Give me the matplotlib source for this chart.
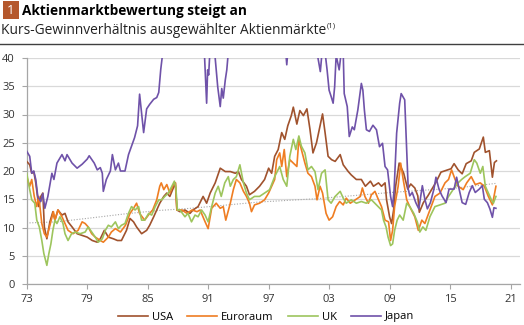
import matplotlib
matplotlib.use("Agg")
import matplotlib.pyplot as plt
from matplotlib.patches import Rectangle

plt.rcParams['font.family'] = ['Open Sans', 'DejaVu Sans']

# --- data (KGV) ---
usa_x = [1973.0, 1973.3, 1973.5, 1973.7, 1973.9, 1974.2, 1974.4, 1974.6, 1974.75, 1975.0,
         1975.3, 1975.6, 1975.8, 1976.1, 1976.5, 1976.8, 1977.1, 1977.5, 1978.0, 1978.5,
         1979.0, 1979.5, 1980.0, 1980.3, 1980.7, 1981.1, 1981.6, 1982.0, 1982.4, 1982.9,
         1983.25, 1983.6, 1983.9, 1984.4, 1984.9, 1985.2, 1985.6, 1985.9, 1986.2, 1986.6,
         1986.9, 1987.2, 1987.55, 1987.75, 1987.9, 1988.2, 1988.7, 1989.2, 1989.5, 1990.0,
         1990.5, 1990.85, 1991.2, 1991.7, 1992.2, 1992.7, 1993.2, 1993.7, 1994.0, 1994.3,
         1994.8, 1995.1, 1995.6, 1996.1, 1996.6, 1997.0, 1997.3, 1997.6, 1997.95, 1998.3,
         1998.6, 1998.9, 1999.25, 1999.45, 1999.8, 2000.1, 2000.45, 2000.8, 2001.1, 2001.4,
         2001.75, 2002.1, 2002.35, 2002.6, 2002.9, 2003.25, 2003.6, 2004.1, 2004.4, 2004.9,
         2005.2, 2005.7, 2006.2, 2006.6, 2007.1, 2007.4, 2007.9, 2008.2, 2008.55, 2008.7,
         2009.0, 2009.2, 2009.4, 2009.6, 2009.95, 2010.1, 2010.4, 2010.8, 2011.1, 2011.5,
         2011.8, 2011.95, 2012.35, 2012.8, 2013.2, 2013.6, 2014.1, 2014.6, 2015.1, 2015.4,
         2015.8, 2016.2, 2016.6, 2017.1, 2017.4, 2017.9, 2018.3, 2018.5, 2018.9, 2019.2,
         2019.4, 2019.6]
usa_y = [21.7, 21.1, 19.6, 19.9, 17.9, 13.7, 15.5, 16.1, 10.1, 8.0,
         11.0, 12.8, 11.3, 13.1, 12.2, 12.5, 11.0, 10.1, 8.9, 8.6,
         8.3, 7.7, 7.4, 8.0, 9.5, 8.3, 8.0, 7.7, 7.7, 9.5,
         11.6, 11.0, 10.1, 8.9, 9.5, 10.4, 11.9, 13.1, 14.3, 15.5,
         16.1, 15.5, 17.0, 17.9, 13.1, 12.8, 13.1, 12.5, 13.1, 13.7,
         15.5, 14.3, 16.1, 17.9, 20.5, 19.9, 19.9, 19.6, 19.9, 18.5,
         17.3, 15.8, 16.4, 17.3, 18.5, 20.5, 19.6, 22.6, 23.8, 26.8,
         25.6, 28.0, 29.8, 31.3, 28.3, 30.7, 29.8, 31.0, 27.4, 23.2,
         25.0, 28.0, 30.1, 26.8, 22.6, 22.0, 21.7, 22.9, 21.1, 19.9,
         19.3, 18.5, 18.5, 17.3, 18.2, 17.3, 17.9, 17.3, 17.9, 14.9,
         11.9, 10.7, 13.1, 17.3, 21.4, 20.8, 19.6, 16.8, 17.7, 17.0,
         15.6, 12.7, 14.4, 15.6, 16.8, 18.0, 19.8, 20.1, 20.4, 21.3,
         20.2, 19.5, 21.3, 21.8, 23.3, 23.9, 26.0, 23.3, 23.6, 18.9,
         21.5, 21.8]

euro_x = [1973.0, 1973.3, 1973.5, 1973.75, 1974.0, 1974.2, 1974.5, 1974.75, 1975.0, 1975.3,
          1975.65, 1975.8, 1976.1, 1976.5, 1976.8, 1977.1, 1977.6, 1978.1, 1978.5, 1978.8,
          1979.1, 1979.45, 1979.8, 1980.3, 1980.6, 1981.1, 1981.4, 1981.8, 1982.3, 1982.8,
          1983.25, 1983.6, 1983.9, 1984.2, 1984.7, 1985.2, 1985.5, 1985.9, 1986.2, 1986.35,
          1986.6, 1986.9, 1987.2, 1987.55, 1987.75, 1987.9, 1988.4, 1988.9, 1989.4, 1989.9,
          1990.2, 1990.7, 1991.0, 1991.35, 1991.8, 1992.2, 1992.5, 1992.75, 1993.2, 1993.5,
          1993.8, 1994.15, 1994.5, 1994.8, 1995.1, 1995.3, 1995.6, 1996.1, 1996.6, 1997.0,
          1997.3, 1997.6, 1997.8, 1998.1, 1998.3, 1998.55, 1998.8, 1999.1, 1999.45, 1999.8,
          2000.0, 2000.25, 2000.6, 2000.9, 2001.25, 2001.6, 2001.8, 2002.1, 2002.35, 2002.7,
          2003.0, 2003.35, 2003.7, 2004.05, 2004.4, 2004.7, 2005.1, 2005.6, 2006.1, 2006.3,
          2006.55, 2006.9, 2007.2, 2007.55, 2007.9, 2008.2, 2008.55, 2008.9, 2009.1, 2009.3,
          2009.5, 2009.85, 2010.1, 2010.35, 2010.7, 2011.0, 2011.5, 2011.85, 2012.2, 2012.5,
          2013.0, 2013.5, 2014.0, 2014.5, 2014.85, 2015.15, 2015.5, 2015.8, 2016.3, 2016.65,
          2017.1, 2017.5, 2018.0, 2018.4, 2018.8, 2019.2, 2019.55]
euro_y = [19.0, 17.3, 18.5, 15.5, 13.7, 15.5, 10.7, 8.9, 8.3, 10.4,
          12.8, 11.3, 13.1, 11.9, 10.7, 9.5, 8.9, 9.5, 11.0, 10.7,
          10.1, 8.9, 8.3, 7.7, 7.4, 8.3, 9.2, 9.8, 9.2, 10.4,
          12.5, 13.4, 14.3, 12.5, 11.3, 12.5, 13.1, 14.9, 17.3, 17.9,
          16.7, 17.6, 16.1, 17.6, 17.9, 13.1, 13.1, 12.5, 13.1, 12.8,
          13.1, 11.0, 9.8, 13.4, 14.3, 13.4, 13.7, 11.3, 14.3, 16.7,
          18.5, 17.9, 16.4, 15.5, 14.3, 12.8, 14.0, 14.3, 14.9, 16.1,
          17.3, 18.5, 22.0, 23.2, 20.8, 23.8, 19.0, 22.0, 21.4, 20.8,
          25.6, 23.8, 21.4, 19.6, 19.0, 17.3, 14.9, 17.3, 16.1, 12.5,
          11.3, 11.9, 13.7, 14.6, 14.0, 15.2, 14.3, 14.9, 15.5, 17.0,
          15.5, 14.3, 15.8, 16.4, 14.9, 13.7, 11.3, 11.0, 7.7, 9.5,
          13.7, 17.3, 21.4, 18.5, 14.9, 13.7, 11.9, 9.5, 11.3, 10.7,
          13.1, 15.5, 16.1, 17.9, 18.5, 20.2, 18.5, 17.3, 16.7, 17.9,
          19.0, 17.6, 17.9, 17.3, 15.5, 14.0, 17.3]

uk_x = [1973.0, 1973.3, 1973.5, 1973.8, 1974.0, 1974.25, 1974.5, 1974.7, 1975.0, 1975.2,
        1975.4, 1975.6, 1975.8, 1976.0, 1976.3, 1976.6, 1976.8, 1977.1, 1977.45, 1977.8,
        1978.3, 1978.8, 1979.1, 1979.45, 1979.8, 1980.1, 1980.5, 1980.8, 1981.1, 1981.4,
        1981.8, 1982.1, 1982.4, 1982.75, 1983.1, 1983.4, 1983.75, 1984.1, 1984.4, 1984.7,
        1985.1, 1985.4, 1985.75, 1986.1, 1986.4, 1986.7, 1987.05, 1987.4, 1987.65, 1987.8,
        1987.95, 1988.2, 1988.7, 1989.0, 1989.35, 1989.7, 1990.0, 1990.35, 1990.7, 1991.0,
        1991.35, 1991.7, 1992.0, 1992.3, 1992.65, 1993.0, 1993.2, 1993.5, 1993.8, 1994.15,
        1994.5, 1994.8, 1995.1, 1995.6, 1996.1, 1996.6, 1997.1, 1997.6, 1998.1, 1998.45,
        1998.8, 1999.1, 1999.45, 1999.7, 2000.0, 2000.25, 2000.6, 2000.9, 2001.25, 2001.6,
        2001.9, 2002.25, 2002.6, 2002.9, 2003.2, 2003.6, 2004.1, 2004.4, 2004.7, 2005.2,
        2005.7, 2006.2, 2006.7, 2007.2, 2007.7, 2008.2, 2008.4, 2008.65, 2008.85, 2009.1,
        2009.3, 2009.5, 2009.75, 2010.0, 2010.35, 2010.7, 2011.0, 2011.4, 2011.75, 2012.0,
        2012.3, 2012.6, 2013.0, 2013.5, 2014.0, 2014.5, 2014.85, 2015.3, 2015.8, 2016.15,
        2016.5, 2017.0, 2017.4, 2017.65, 2018.0, 2018.25, 2018.5, 2018.8, 2019.1, 2019.3,
        2019.55]
uk_y = [19.6, 16.7, 14.9, 14.3, 11.3, 10.1, 7.7, 5.4, 3.3, 5.4,
        7.1, 9.5, 11.3, 10.7, 11.9, 10.7, 8.9, 7.7, 8.9, 9.2,
        8.9, 9.2, 10.1, 9.2, 8.3, 7.4, 8.0, 9.5, 10.4, 10.1,
        11.0, 9.8, 10.4, 10.7, 12.5, 13.7, 13.1, 13.7, 11.3, 11.3,
        12.5, 12.2, 13.7, 14.9, 14.9, 15.5, 16.1, 17.3, 18.2, 17.0,
        13.1, 13.1, 11.9, 12.5, 11.0, 12.2, 11.9, 13.1, 12.2, 11.0,
        13.7, 16.1, 17.3, 15.5, 17.9, 19.0, 17.3, 18.5, 19.0, 21.1,
        17.9, 16.1, 14.9, 15.5, 15.5, 16.1, 16.7, 19.0, 20.8, 18.5,
        17.3, 22.6, 25.6, 23.8, 26.2, 24.4, 23.2, 20.2, 20.8, 19.9,
        16.7, 19.6, 20.2, 14.9, 14.3, 15.5, 16.4, 15.2, 14.3, 14.9,
        14.3, 14.6, 14.3, 14.9, 14.0, 13.1, 11.3, 10.1, 8.3, 6.8,
        7.1, 9.5, 11.3, 12.2, 11.3, 14.3, 13.7, 12.5, 11.0, 9.2,
        10.1, 9.5, 11.9, 13.7, 14.0, 14.3, 15.5, 16.7, 17.9, 18.5,
        19.0, 19.6, 22.0, 21.4, 19.6, 20.8, 17.3, 16.1, 14.9, 14.3,
        15.5]

# Japan runs above the 40 ceiling in the late 80s / 90s (clipped in the chart)
japan_x = [1973.0, 1973.3, 1973.5, 1973.7, 1973.9, 1974.1, 1974.4, 1974.6, 1974.8, 1975.1,
           1975.5, 1975.7, 1976.0, 1976.5, 1976.8, 1977.0, 1977.5, 1978.0, 1978.5, 1979.0,
           1979.2, 1979.7, 1980.0, 1980.3, 1980.5, 1980.6, 1980.9, 1981.3, 1981.5, 1981.8,
           1982.1, 1982.3, 1982.75, 1983.1, 1983.4, 1983.7, 1984.0, 1984.2, 1984.6, 1984.9,
           1985.2, 1985.6, 1985.9, 1986.1, 1986.3, 1986.5, 1987.0, 1988.0, 1989.0, 1990.0,
           1990.6, 1990.85, 1990.95, 1991.05, 1991.2, 1991.6, 1991.95, 1992.2, 1992.35, 1992.5,
           1992.7, 1992.85, 1993.0, 1995.0, 1998.7, 1998.8, 1998.9, 2001.8, 2002.0, 2002.13,
           2002.3, 2002.6, 2002.8, 2003.0, 2003.2, 2003.4, 2003.55, 2003.7, 2004.0, 2004.2,
           2004.4, 2004.5, 2004.8, 2005.0, 2005.3, 2005.5, 2005.85, 2006.2, 2006.35, 2006.5,
           2006.7, 2007.0, 2007.35, 2007.7, 2008.0, 2008.3, 2008.55, 2008.8, 2009.1, 2009.3,
           2009.45, 2009.7, 2010.0, 2010.15, 2010.5, 2010.7, 2010.85, 2011.0, 2011.25, 2011.6,
           2011.9, 2012.25, 2012.5, 2012.75, 2013.05, 2013.4, 2013.6, 2013.9, 2014.2, 2014.6,
           2014.9, 2015.4, 2015.65, 2015.9, 2016.2, 2016.55, 2016.9, 2017.2, 2017.5, 2017.9,
           2018.2, 2018.4, 2018.7, 2018.95, 2019.2, 2019.35, 2019.55]
japan_y = [23.5, 22.6, 19.6, 20.0, 18.5, 15.5, 14.6, 16.0, 13.4, 15.5,
           19.6, 18.5, 21.4, 22.9, 21.8, 22.9, 21.4, 20.5, 21.2, 22.1,
           22.7, 21.4, 20.2, 20.6, 19.6, 16.4, 18.5, 20.0, 22.9, 20.2,
           21.4, 20.0, 20.0, 22.9, 24.4, 25.9, 28.0, 33.6, 26.8, 31.0,
           31.8, 32.7, 33.0, 33.9, 38.0, 41.0, 55.0, 60.0, 65.0, 55.0,
           42.0, 32.0, 37.9, 37.0, 42.0, 42.0, 34.9, 31.4, 34.6, 32.9,
           36.1, 37.9, 41.0, 60.0, 41.0, 38.8, 41.0, 41.0, 39.0, 37.6,
           41.0, 41.0, 37.9, 34.3, 33.2, 32.0, 34.9, 40.5, 37.9, 41.0,
           41.0, 33.7, 31.4, 26.1, 27.8, 27.3, 30.8, 35.5, 34.3, 30.8,
           27.3, 27.0, 28.1, 27.3, 24.3, 24.9, 20.8, 20.2, 15.5, 13.7,
           16.7, 26.7, 32.0, 33.7, 32.6, 23.7, 16.8, 15.6, 16.2, 14.4,
           13.3, 17.4, 15.0, 13.3, 14.4, 16.8, 18.9, 16.8, 15.6, 14.4,
           16.8, 16.8, 18.9, 16.8, 14.4, 14.1, 16.2, 17.4, 16.2, 16.8,
           17.4, 15.0, 14.4, 13.3, 11.8, 13.5, 13.4]

trend_x = [1973.0, 1976.0, 1979.4, 1982.7, 1986.0, 1989.3, 1996.0, 2001.8, 2009.1, 2015.7, 2019.5]
trend_y = [10.8, 11.0, 11.7, 12.4, 13.0, 13.4, 14.5, 15.1, 16.2, 17.0, 17.8]

x_ticks = [1973, 1979, 1985, 1991, 1997, 2003, 2009, 2015, 2021]
x_labels = ['73', '79', '85', '91', '97', '03', '09', '15', '21']
y_ticks = [0, 5, 10, 15, 20, 25, 30, 35, 40]

W, H = 524, 325
fig = plt.figure(figsize=(W / 100, H / 100), dpi=100)

# header
fig.patches.append(Rectangle((3 / W, 1 - 19 / H), 16 / W, 18 / H, transform=fig.transFigure,
                             facecolor='#b5582d', edgecolor='none'))
fig.text(11 / W, 1 - 10.5 / H, '1', color='white', fontsize=9.5, ha='center', va='center')
fig.text(22 / W, 1 - 10.5 / H, 'Aktienmarktbewertung steigt an', fontsize=9.8,
         fontweight='bold', color='black', va='center')
sub = fig.text(1 / W, 1 - 30 / H, 'Kurs-Gewinnverhältnis ausgewählter Aktienmärkte',
               fontsize=9.9, color='#222222', va='center')
fig.canvas.draw()
bb = sub.get_window_extent()
fig.text(bb.x1 / W + 0.5 / W, 1 - 26 / H, '(1)', fontsize=5.5, color='#222222', va='center')
fig.add_artist(plt.Line2D([0, 1], [1 - 43.5 / H, 1 - 43.5 / H], transform=fig.transFigure,
                          color='#404040', lw=1.0))

ax = fig.add_axes([26.7 / W, 1 - 284 / H, (520 - 26.7) / W, (284 - 58) / H])
ax.plot(trend_x, trend_y, color='#a6a6a6', lw=0.8, linestyle=(0, (1, 1.5)), zorder=2)
ax.plot(usa_x, usa_y, color='#a0522d', lw=1.2, label='USA', zorder=3)
ax.plot(euro_x, euro_y, color='#ef7d22', lw=1.2, label='Euroraum', zorder=3)
ax.plot(uk_x, uk_y, color='#9dc55d', lw=1.2, label='UK', zorder=3)
ax.plot(japan_x, japan_y, color='#6f52a9', lw=1.2, label='Japan', zorder=3)

ax.set_xlim(1973, 1973 + (520 - 26.7) / 10.08)
ax.set_ylim(0, 40)
ax.set_xticks(x_ticks)
ax.set_xticklabels(x_labels)
ax.set_yticks(y_ticks)
ax.yaxis.grid(True, color='#d9d9d9', lw=0.9)
ax.set_axisbelow(True)
for s in ['top', 'right']:
    ax.spines[s].set_visible(False)
for s in ['left', 'bottom']:
    ax.spines[s].set_color('#a6a6a6')
    ax.spines[s].set_linewidth(0.9)
ax.tick_params(axis='both', direction='out', length=3.5, width=0.8, color='#a6a6a6',
               labelsize=8, labelcolor='#333333')
ax.tick_params(axis='y', pad=5)
ax.tick_params(axis='x', pad=4)

ax.legend(loc='center', bbox_to_anchor=(266 / W, 1 - 317 / H), bbox_transform=fig.transFigure,
          ncol=4, frameon=False, fontsize=8, handlelength=2.7, handletextpad=0.35,
          columnspacing=1.3, borderaxespad=0, borderpad=0)

fig.savefig('out.png', dpi=100)
